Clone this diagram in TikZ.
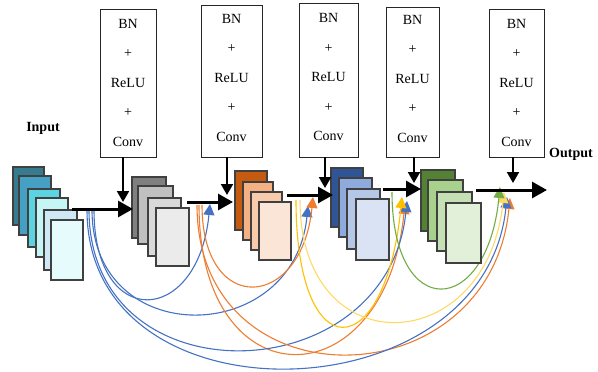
\documentclass[tikz,border=0pt]{standalone}
\usepackage{fontspec}
\setmainfont{Liberation Serif}
\usetikzlibrary{arrows.meta}

% layer fills
\definecolor{tealA}{RGB}{55,123,143}
\definecolor{tealB}{RGB}{69,160,196}
\definecolor{tealC}{RGB}{92,211,224}
\definecolor{tealD}{RGB}{198,245,245}
\definecolor{tealE}{RGB}{207,232,245}
\definecolor{tealF}{RGB}{230,252,252}
\definecolor{grayA}{RGB}{128,128,128}
\definecolor{grayB}{RGB}{192,192,192}
\definecolor{grayC}{RGB}{217,217,217}
\definecolor{grayD}{RGB}{235,235,235}
\definecolor{orgA}{RGB}{197,90,17}
\definecolor{orgB}{RGB}{244,177,131}
\definecolor{orgC}{RGB}{248,203,173}
\definecolor{orgD}{RGB}{251,229,214}
\definecolor{bluA}{RGB}{47,85,151}
\definecolor{bluB}{RGB}{143,170,220}
\definecolor{bluC}{RGB}{180,199,231}
\definecolor{bluD}{RGB}{218,227,243}
\definecolor{grnA}{RGB}{84,130,53}
\definecolor{grnB}{RGB}{169,209,142}
\definecolor{grnC}{RGB}{197,224,180}
\definecolor{grnD}{RGB}{226,240,217}
% skip-connection colours
\definecolor{skipblue}{RGB}{68,114,196}
\definecolor{skiporange}{RGB}{237,125,49}
\definecolor{skipgold}{RGB}{255,192,0}
\definecolor{skipyellow}{RGB}{255,217,102}
\definecolor{skipgreen}{RGB}{112,173,71}

% one feature-map sheet: name, fill, centre x, centre y, width, height
\newcommand\fmaplayer[6]{%
  \node[fmap, fill=#2, minimum width=#5pt, minimum height=#6pt] (#1) at (#3,#4) {};}

\begin{document}
\begin{tikzpicture}[x=1pt, y=-1pt,
  fmap/.style={draw=black!75, line width=1.1pt, inner sep=0pt, outer sep=0pt},
  convbox/.style={draw=black!85, line width=1pt, fill=white, inner sep=0pt, outer sep=0pt},
  boxtext/.style={align=center, inner sep=0pt, font=\fontsize{14}{29.5}\selectfont},
  title/.style={inner sep=0pt, font=\fontsize{14}{16}\selectfont\bfseries},
  flow/.style={line width=3pt, -{Triangle[length=15pt,width=16pt]}},
  feed/.style={line width=2pt, -{Triangle[length=11pt,width=12pt]}},
  skip/.style={line width=1.1pt, -{Triangle[length=11pt,width=11pt]}}]
\useasboundingbox (0,0) rectangle (598,372);

% ---------- skip-connection end points ----------
\coordinate (bs1) at (94,210);  \coordinate (bt1) at (210,204);
\coordinate (bs2) at (92,210);  \coordinate (bt2) at (308,206);
\coordinate (bs3) at (89,210);  \coordinate (bt3) at (407,201);
\coordinate (bs4) at (87,210);  \coordinate (bt4) at (507,197);
\coordinate (os1) at (202,205); \coordinate (ot1) at (313,197);
\coordinate (os2) at (199,205); \coordinate (ot2) at (405,203);
\coordinate (os3) at (197,205); \coordinate (ot3) at (510,198);
\coordinate (ys1) at (296,200); \coordinate (yt1) at (402,197);
\coordinate (ys2) at (300,200); \coordinate (yt2) at (504,192);
\coordinate (gs1) at (392,192); \coordinate (gt1) at (500,187);

% ---------- dense skip connections ----------
\draw[skip, skipblue]   (bs1) .. controls +(0,122) and +(-12,122) .. (bt1);
\draw[skip, skipblue]   (bs2) .. controls +(0,141) and +(-14,141) .. (bt2);
\draw[skip, skiporange] (os1) .. controls +(0,113) and +(-11,113) .. (ot1);
\draw[skip, skiporange] (os2) .. controls +(0,199) and +(-20,199) .. (ot2);
\draw[skip, skipblue]   (bs3) .. controls +(0,192) and +(-19,192) .. (bt3);
\draw[skip, skipgold]   (ys1) .. controls +(0,170) and +(-17,170) .. (yt1);
\draw[skip, skiporange] (os3) .. controls +(0,203) and +(-20,203) .. (ot3);
\draw[skip, skipblue]   (bs4) .. controls +(0,219) and +(-22,219) .. (bt4);
\draw[skip, skipyellow] (ys2) .. controls +(0,167) and +(-17,167) .. (yt2);
\draw[skip, skipgreen]  (gs1) .. controls +(0,131) and +(-13,131) .. (gt1);

% ---------- feature-map stacks ----------
\fmaplayer{in1}{tealA}{28.5}{196}{31}{58}
\fmaplayer{in2}{tealB}{35}{205.5}{32}{59}
\fmaplayer{in3}{tealC}{44}{218}{32}{58}
\fmaplayer{in4}{tealD}{52}{227.5}{32}{59}
\fmaplayer{in5}{tealE}{60.5}{240}{33}{60}
\fmaplayer{in6}{tealF}{67}{250}{32}{60}

\fmaplayer{g1}{grayA}{149}{207.5}{34}{61}
\fmaplayer{g2}{grayB}{155.5}{215}{35}{58}
\fmaplayer{g3}{grayC}{164.5}{227}{33}{58}
\fmaplayer{g4}{grayD}{172.5}{237}{33}{58}

\fmaplayer{o1}{orgA}{251}{200.5}{32}{59}
\fmaplayer{o2}{orgB}{258}{211}{30}{58}
\fmaplayer{o3}{orgC}{266.5}{221}{31}{58}
\fmaplayer{o4}{orgD}{275}{231}{32}{58}

\fmaplayer{u1}{bluA}{347}{197.5}{32}{59}
\fmaplayer{u2}{bluB}{355.5}{207.5}{33}{59}
\fmaplayer{u3}{bluC}{363.5}{219}{33}{60}
\fmaplayer{u4}{bluD}{372.5}{229.5}{33}{61}

\fmaplayer{e1}{grnA}{438}{200.5}{34}{61}
\fmaplayer{e2}{grnB}{445.5}{210.5}{35}{61}
\fmaplayer{e3}{grnC}{454.5}{221.5}{35}{59}
\fmaplayer{e4}{grnD}{463.5}{233}{35}{60}

% ---------- BN + ReLU + Conv blocks ----------
\node[convbox, minimum width=56pt, minimum height=148pt] (b1) at (128,83) {};
\node[convbox, minimum width=61pt, minimum height=152pt] (b2) at (231.5,81) {};
\node[convbox, minimum width=59pt, minimum height=154pt] (b3) at (328.5,80) {};
\node[convbox, minimum width=53pt, minimum height=150pt] (b4) at (412.5,82) {};
\node[convbox, minimum width=55pt, minimum height=148pt] (b5) at (516.5,83) {};

\node[boxtext] (t1) at (128,82.5)   {BN\\+\\ReLU\\+\\Conv};
\node[boxtext] (t2) at (231.5,77.5) {BN\\+\\ReLU\\+\\Conv};
\node[boxtext] (t3) at (328.5,77)   {BN\\+\\ReLU\\+\\Conv};
\node[boxtext] (t4) at (412.5,78.5) {BN\\+\\ReLU\\+\\Conv};
\node[boxtext] (t5) at (516.5,82.5) {BN\\+\\ReLU\\+\\Conv};

\node[title] (inlabel)  at (43,128)  {Input};
\node[title] (outlabel) at (571,154) {Output};

% ---------- main data flow ----------
\coordinate (h1s) at (72,209);  \coordinate (h1t) at (133,209);
\coordinate (h2s) at (187,202); \coordinate (h2t) at (233,202);
\coordinate (h3s) at (287,195); \coordinate (h3t) at (333,195);
\coordinate (h4s) at (383,189); \coordinate (h4t) at (421,189);
\coordinate (h5s) at (476,190); \coordinate (h5t) at (547,190);

\coordinate (v1t) at (123,202);
\coordinate (v2t) at (227,195);
\coordinate (v3t) at (325,188);
\coordinate (v4t) at (414,183);
\coordinate (v5t) at (513,183);

\draw[feed] (b1.south -| v1t) -- (v1t);
\draw[feed] (b2.south -| v2t) -- (v2t);
\draw[feed] (b3.south -| v3t) -- (v3t);
\draw[feed] (b4.south -| v4t) -- (v4t);
\draw[feed] (b5.south -| v5t) -- (v5t);

\draw[flow] (h1s) -- (h1t);
\draw[flow] (h2s) -- (h2t);
\draw[flow] (h3s) -- (h3t);
\draw[flow] (h4s) -- (h4t);
\draw[flow] (h5s) -- (h5t);
\end{tikzpicture}
\end{document}
